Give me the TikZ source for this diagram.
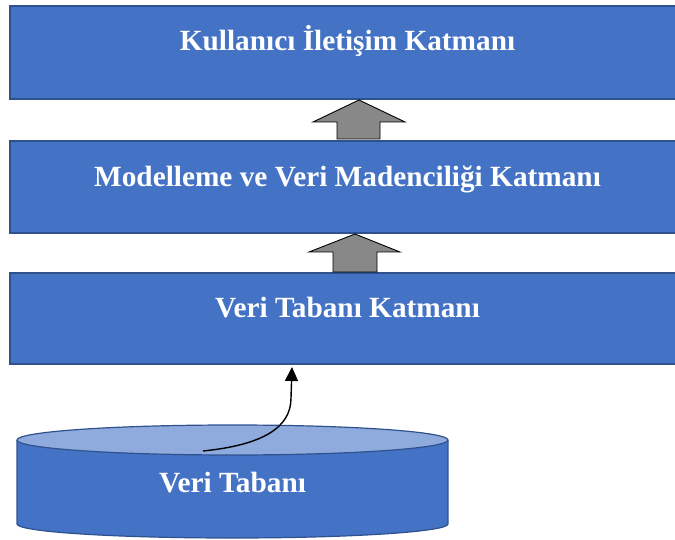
\documentclass[tikz,border=0pt]{standalone}
\usepackage{fontspec}
\setmainfont{Liberation Serif}
\usetikzlibrary{arrows.meta}
\definecolor{boxblue}{HTML}{4472C4}
\definecolor{boxedge}{HTML}{2F528F}
\definecolor{toplight}{HTML}{8FAADC}
\definecolor{arrowgray}{HTML}{888888}
\begin{document}
\begin{tikzpicture}[x=1pt,y=-1pt,
  layer/.style={draw=boxedge, line width=1.2pt, fill=boxblue, minimum width=675pt, inner sep=0pt},
  lbl/.style={font=\fontsize{29.3}{32}\selectfont\bfseries, text=white, anchor=base, inner sep=0pt},
  blockarrow/.style={fill=arrowgray, draw=black, line width=0.9pt, line join=miter},
  cylfill/.style={fill=boxblue},
  cyledge/.style={draw=boxedge, line width=1.2pt}]
\useasboundingbox (0,0) rectangle (675,540);
% layers
\node[layer, minimum height=93pt] (l1) at (347.5,52.5) {};
\node[layer, minimum height=92pt] (l2) at (347.5,187) {};
\node[layer, minimum height=91pt] (l3) at (347.5,318.5) {};
\node[lbl] (t1) at (347.5,51) {Kullanıcı İletişim Katmanı};
\node[lbl] (t2) at (347.5,187) {Modelleme ve Veri Madenciliği Katmanı};
\node[lbl] (t3) at (347.5,317) {Veri Tabanı Katmanı};
% block arrows
\draw[blockarrow] (359,100) -- (405,122) -- (380,122) -- (380,139) -- (337,139) -- (337,122) -- (313,122) -- cycle;
\draw[blockarrow] (355,234) -- (400,252) -- (377,252) -- (377,272) -- (333,272) -- (333,252) -- (309,252) -- cycle;
% database cylinder
\fill[cylfill] (232.5,524) ellipse[x radius=215.5pt, y radius=14pt];
\fill[cylfill] (17,440) rectangle (448,524);
\draw[cyledge] (17,440) -- (17,524) arc[start angle=180, end angle=360, x radius=215.5pt, y radius=14pt] -- (448,440);
\draw[cyledge, fill=toplight] (232.5,440) ellipse[x radius=215.5pt, y radius=15pt];
\node[lbl] (db) at (232.5,492) {Veri Tabanı};
\coordinate (dbtop) at (203,451);
\coordinate (tip) at (292,367);
\draw[line width=1.4pt, -{Triangle[length=14pt, width=13pt]}] (dbtop) .. controls (262,445) and (291,428) .. (291,398) -- (tip);
\end{tikzpicture}
\end{document}
